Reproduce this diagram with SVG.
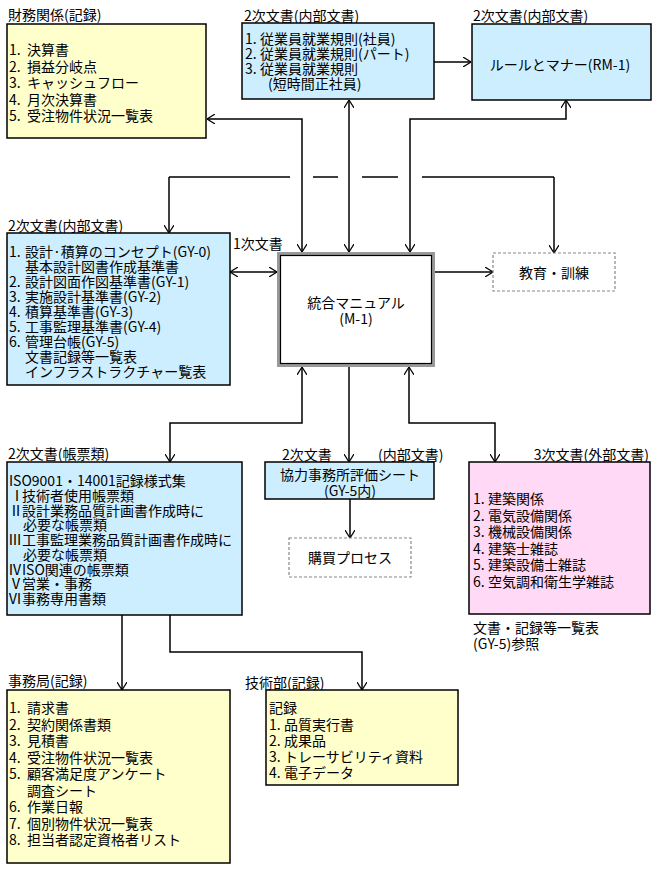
<svg xmlns="http://www.w3.org/2000/svg" width="660" height="869" viewBox="0 0 660 869">
<defs>
<style>
.t{font-family:'Noto Sans CJK JP','Noto Sans CJK SC',sans-serif;font-size:14px;fill:#000;dominant-baseline:central}
.c{text-anchor:middle}
.e{text-anchor:end}
.yel{fill:#ffffcc;stroke:#000;stroke-width:1.5}
.blu{fill:#cdeeff;stroke:#000;stroke-width:1.5}
.pnk{fill:#ffd9f5;stroke:#000;stroke-width:1.5}
.dsh{fill:#fff;stroke:#888;stroke-width:1.2;stroke-dasharray:3 2}
.ln{fill:none;stroke:#000;stroke-width:1.5}
.a2{marker-start:url(#ah);marker-end:url(#ah)}
.a1{marker-end:url(#ah)}
</style>
<marker id="ah" viewBox="0 0 8 10" refX="8" refY="5" markerWidth="8" markerHeight="10" markerUnits="userSpaceOnUse" orient="auto-start-reverse">
<path d="M0,0 L8,5 L0,10" fill="none" stroke="#000" stroke-width="1.2"/>
</marker>
</defs>
<rect width="660" height="869" fill="#fff"/>

<g id="connectors">
<path class="ln a1" d="M434,62 H471"/>
<path class="ln a2" d="M207,119 H302 V252"/>
<path class="ln a2" d="M349,100 V252"/>
<path class="ln a2" d="M410,252 V119 H566 V100"/>
<path class="ln" d="M169,177 H290 M313,177 H338 M362,177 H398 M422,177 H554"/>
<path class="ln a1" d="M169,177 V233"/>
<path class="ln a1" d="M554,177 V253"/>
<path class="ln a2" d="M230,272 H277"/>
<path class="ln a1" d="M435,272 H493"/>
<path class="ln a2" d="M170,462 V423 H302 V367"/>
<path class="ln a1" d="M349,367 V462"/>
<path class="ln a2" d="M409,367 V423 H495 V462"/>
<path class="ln a1" d="M350,499 V538"/>
<path class="ln a1" d="M122,615 V690"/>
<path class="ln a1" d="M170,615 V652 H362 V690"/>
</g>

<g id="zaimu">
<text class="t" x="8" y="14">財務関係(記録)</text>
<rect class="yel" x="7" y="24" width="199" height="114"/>
<text class="t" x="9" y="49">1.<tspan x="27">決算書</tspan></text>
<text class="t" x="9" y="65.5">2.<tspan x="27">損益分岐点</tspan></text>
<text class="t" x="9" y="82">3.<tspan x="27">キャッシュフロー</tspan></text>
<text class="t" x="9" y="98.5">4.<tspan x="27">月次決算書</tspan></text>
<text class="t" x="9" y="115">5.<tspan x="27">受注物件状況一覧表</tspan></text>
</g>

<g id="jugyoin">
<text class="t" x="244" y="15">2次文書(内部文書)</text>
<rect class="blu" x="242" y="23" width="192" height="76"/>
<text class="t" x="245" y="38">1.<tspan x="260">従業員就業規則(社員)</tspan></text>
<text class="t" x="245" y="53">2.<tspan x="260">従業員就業規則(パート)</tspan></text>
<text class="t" x="245" y="68">3.<tspan x="260">従業員就業規則</tspan></text>
<text class="t" x="268" y="83">(短時間正社員)</text>
</g>

<g id="rule">
<text class="t" x="473" y="15">2次文書(内部文書)</text>
<rect class="blu" x="472" y="24" width="179" height="76"/>
<text class="t c" x="560" y="64">ルールとマナー(RM-1)</text>
</g>

<g id="naibu">
<text class="t" x="8" y="225">2次文書(内部文書)</text>
<rect class="blu" x="7" y="233" width="223" height="152"/>
<text class="t" x="9" y="251">1.<tspan x="25">設計·積算のコンセプト(GY-0)</tspan></text>
<text class="t" x="25" y="266">基本設計図書作成基準書</text>
<text class="t" x="9" y="281">2.<tspan x="25">設計図面作図基準書(GY-1)</tspan></text>
<text class="t" x="9" y="296">3.<tspan x="25">実施設計基準書(GY-2)</tspan></text>
<text class="t" x="9" y="311">4.<tspan x="25">積算基準書(GY-3)</tspan></text>
<text class="t" x="9" y="326">5.<tspan x="25">工事監理基準書(GY-4)</tspan></text>
<text class="t" x="9" y="341">6.<tspan x="25">管理台帳(GY-5)</tspan></text>
<text class="t" x="25" y="356">文書記録等一覧表</text>
<text class="t" x="25" y="371">インフラストラクチャー覧表</text>
</g>

<g id="manual">
<text class="t" x="233" y="243">1次文書</text>
<rect x="278.5" y="253.5" width="155" height="112" fill="#fff" stroke="#999" stroke-width="3"/>
<rect x="280.5" y="255.5" width="151" height="108" fill="none" stroke="#000" stroke-width="1.2"/>
<text class="t c" x="356" y="302">統合マニュアル</text>
<text class="t c" x="356" y="318">(M-1)</text>
</g>

<g id="kyoiku">
<rect class="dsh" x="493" y="253" width="122" height="38"/>
<text class="t c" x="554" y="272">教育・訓練</text>
</g>

<g id="chohyo">
<text class="t" x="8" y="453">2次文書(帳票類)</text>
<rect class="blu" x="7" y="462" width="235" height="153"/>
<text class="t" x="9" y="480">ISO9001・14001記録様式集</text>
<text class="t" x="10" y="494.5">Ⅰ<tspan x="22">技術者使用帳票類</tspan></text>
<text class="t" x="9" y="509.5">Ⅱ<tspan x="22">設計業務品質計画書作成時に</tspan></text>
<text class="t" x="23" y="524">必要な帳票類</text>
<text class="t" x="8" y="539">Ⅲ<tspan x="22">工事監理業務品質計画書作成時に</tspan></text>
<text class="t" x="23" y="553.5">必要な帳票類</text>
<text class="t" x="8" y="568.5">Ⅳ<tspan x="22">ISO関連の帳票類</tspan></text>
<text class="t" x="9" y="583">Ⅴ<tspan x="22">営業・事務</tspan></text>
<text class="t" x="8" y="598">Ⅵ<tspan x="22">事務専用書類</tspan></text>
</g>

<g id="kyoryoku">
<text class="t" x="282" y="454">2次文書</text>
<text class="t" x="378" y="454">(内部文書)</text>
<rect class="blu" x="265" y="462" width="169" height="37"/>
<text class="t c" x="350" y="474">協力事務所評価シート</text>
<text class="t c" x="350" y="490">(GY-5内)</text>
</g>

<g id="kobai">
<rect class="dsh" x="289" y="538" width="122" height="39"/>
<text class="t c" x="350" y="557">購買プロセス</text>
</g>

<g id="gaibu">
<text class="t e" x="649" y="454">3次文書(外部文書)</text>
<rect class="pnk" x="469" y="462" width="181" height="152"/>
<text class="t" x="473" y="498">1.<tspan x="488">建築関係</tspan></text>
<text class="t" x="473" y="514.5">2.<tspan x="488">電気設備関係</tspan></text>
<text class="t" x="473" y="531">3.<tspan x="488">機械設備関係</tspan></text>
<text class="t" x="473" y="547.5">4.<tspan x="488">建築士雑誌</tspan></text>
<text class="t" x="473" y="564">5.<tspan x="488">建築設備士雑誌</tspan></text>
<text class="t" x="473" y="580.5">6.<tspan x="488">空気調和衛生学雑誌</tspan></text>
<text class="t" x="473" y="627">文書・記録等一覧表</text>
<text class="t" x="473" y="643">(GY-5)参照</text>
</g>

<g id="jimukyoku">
<text class="t" x="8" y="680">事務局(記録)</text>
<rect class="yel" x="7" y="690" width="223" height="173"/>
<text class="t" x="9" y="707">1.<tspan x="27">請求書</tspan></text>
<text class="t" x="9" y="723.5">2.<tspan x="27">契約関係書類</tspan></text>
<text class="t" x="9" y="740">3.<tspan x="27">見積書</tspan></text>
<text class="t" x="9" y="756.5">4.<tspan x="27">受注物件状況一覧表</tspan></text>
<text class="t" x="9" y="773">5.<tspan x="27">顧客満足度アンケート</tspan></text>
<text class="t" x="27" y="789.5">調査シート</text>
<text class="t" x="9" y="806">6.<tspan x="27">作業日報</tspan></text>
<text class="t" x="9" y="822.5">7.<tspan x="27">個別物件状況一覧表</tspan></text>
<text class="t" x="9" y="839">8.<tspan x="27">担当者認定資格者リスト</tspan></text>
</g>

<g id="gijutsu">
<text class="t" x="245" y="682">技術部(記録)</text>
<rect class="yel" x="266" y="690" width="192" height="95"/>
<text class="t" x="269" y="707">記録</text>
<text class="t" x="269" y="724">1.<tspan x="284">品質実行書</tspan></text>
<text class="t" x="269" y="740">2.<tspan x="284">成果品</tspan></text>
<text class="t" x="269" y="756">3.<tspan x="284">トレーサビリティ資料</tspan></text>
<text class="t" x="269" y="772">4.<tspan x="284">電子データ</tspan></text>
</g>
</svg>
